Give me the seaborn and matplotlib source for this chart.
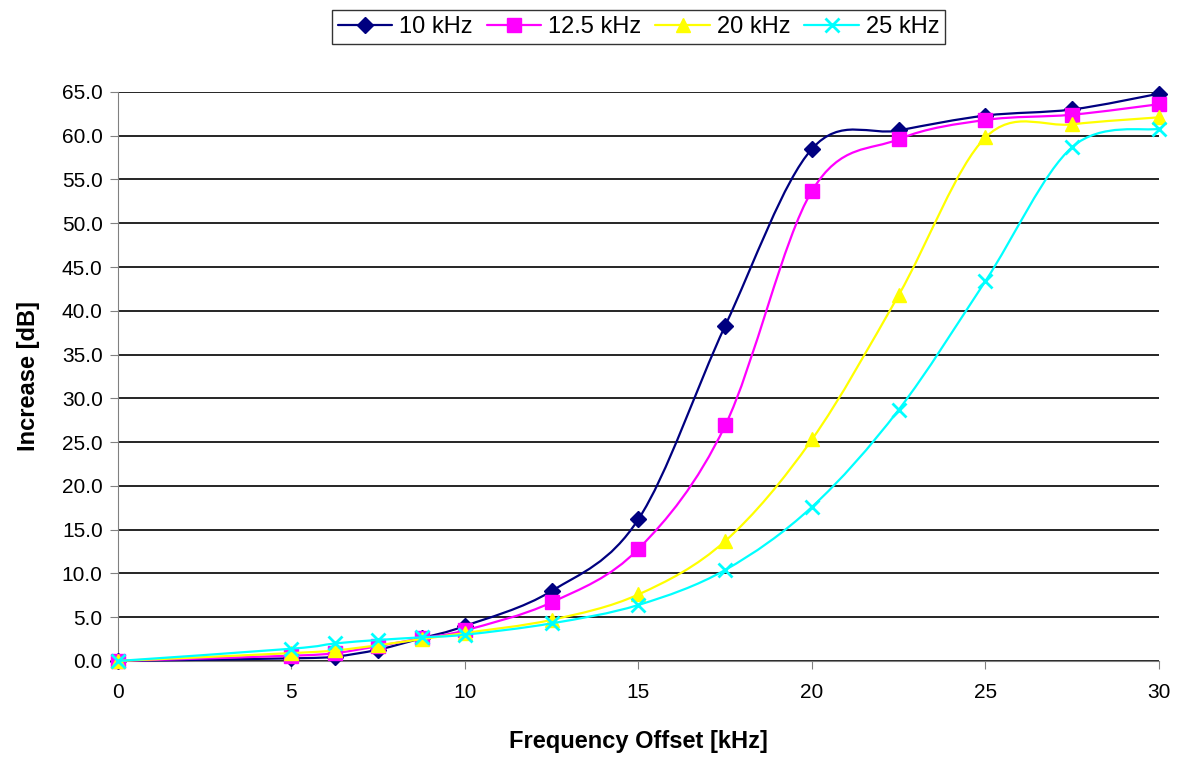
import numpy as np
import pandas as pd
import seaborn as sns
import matplotlib
matplotlib.use("Agg")
import matplotlib.pyplot as plt
from matplotlib.path import Path
from matplotlib.patches import PathPatch
from matplotlib.ticker import FormatStrFormatter

offsets = [0, 5, 6.25, 7.5, 8.75, 10, 12.5, 15, 17.5, 20, 22.5, 25, 27.5, 30]
inc_10 = [0.0, 0.3, 0.5, 1.3, 2.6, 4.0, 8.0, 16.2, 38.3, 58.5, 60.6, 62.3, 63.0, 64.8]
inc_12_5 = [0.0, 0.6, 0.9, 1.7, 2.6, 3.5, 6.7, 12.8, 26.9, 53.7, 59.6, 61.8, 62.4, 63.6]
inc_20 = [0.0, 0.9, 1.2, 1.8, 2.5, 3.2, 4.7, 7.6, 13.7, 25.3, 41.8, 59.8, 61.3, 62.1]
inc_25 = [0.0, 1.4, 2.0, 2.4, 2.7, 3.0, 4.3, 6.4, 10.4, 17.6, 28.7, 43.4, 58.7, 60.8]

series_names = ["10 kHz", "12.5 kHz", "20 kHz", "25 kHz"]
colors = ["#000080", "#FF00FF", "#FFFF00", "#00FFFF"]
markers = ["D", "s", "^", "x"]
sizes = [8, 10, 10, 10]

df = pd.DataFrame({"offset": offsets * 4,
                   "increase": inc_10 + inc_12_5 + inc_20 + inc_25,
                   "series": sum([[n] * len(offsets) for n in series_names], [])})

sns.set_style("white")
plt.rcParams["font.family"] = ["Liberation Sans", "DejaVu Sans"]
plt.rcParams["text.color"] = "black"
plt.rcParams["axes.labelcolor"] = "black"
plt.rcParams["xtick.color"] = "black"
plt.rcParams["ytick.color"] = "black"


def smooth_path(x, y):
    # Excel-style smoothed line: cubic Bezier segments through each point
    pts = np.column_stack([x, y])
    verts = [pts[0]]
    codes = [Path.MOVETO]
    n = len(pts)
    for i in range(n - 1):
        p0 = pts[max(i - 1, 0)]
        p1 = pts[i]
        p2 = pts[i + 1]
        p3 = pts[min(i + 2, n - 1)]
        verts += [p1 + (p2 - p0) / 6, p2 - (p3 - p1) / 6, p2]
        codes += [Path.CURVE4] * 3
    return Path(verts, codes)


fig = plt.figure(figsize=(11.82, 7.58), dpi=100)
ax = fig.add_axes([0.0998, 0.128, 0.8807, 0.7507])

for i, name in enumerate(series_names):
    sub = df[df["series"] == name]
    ax.add_patch(PathPatch(smooth_path(sub["offset"].values, sub["increase"].values),
                           facecolor="none", edgecolor=colors[i], lw=1.6,
                           zorder=3 + i, clip_on=False))
    sns.lineplot(data=sub, x="offset", y="increase", ax=ax, color=colors[i],
                 marker=markers[i], markersize=sizes[i], markeredgecolor=colors[i],
                 markeredgewidth=2 if markers[i] == "x" else 1, linestyle="none",
                 label=name, zorder=3 + i, clip_on=False)

ax.set_xlim(0, 30)
ax.set_ylim(0, 65)
ax.set_xticks(range(0, 31, 5))
ax.set_yticks(np.arange(0, 66, 5))
ax.yaxis.set_major_formatter(FormatStrFormatter("%.1f"))
ax.grid(axis="y", color="black", lw=1.2)
ax.grid(axis="x", visible=False)
for side in ["top", "right"]:
    ax.spines[side].set_visible(False)
for side in ["left", "bottom"]:
    ax.spines[side].set_color("#808080")
ax.tick_params(axis="both", direction="out", length=6, color="#808080",
               labelsize=15, left=True, bottom=True)
ax.tick_params(axis="x", pad=10)
ax.tick_params(axis="y", pad=5)
ax.set_xlabel("Frequency Offset [kHz]", fontsize=17, fontweight="bold", labelpad=20)
ax.set_ylabel("Increase [dB]", fontsize=17, fontweight="bold", labelpad=16)

handles = [plt.Line2D([], [], color=colors[i], marker=markers[i], markersize=sizes[i],
                      markeredgewidth=2 if markers[i] == "x" else 1, lw=1.6)
           for i in range(4)]
ax.legend(handles, series_names, loc="upper center", bbox_to_anchor=(0.5, 1.144),
          ncol=4, frameon=True, fancybox=False, edgecolor="black", fontsize=17,
          handlelength=2.3, handletextpad=0.3, columnspacing=0.6, borderpad=0.25,
          borderaxespad=0)

plt.savefig("out.png", dpi=100)
